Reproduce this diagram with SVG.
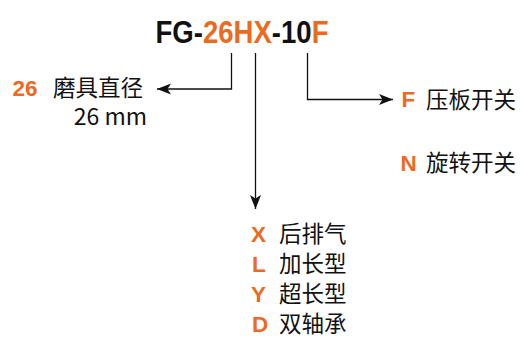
<svg xmlns="http://www.w3.org/2000/svg" width="523" height="340" viewBox="0 0 523 340">
<style>
.t{font-family:"Liberation Sans",Arial,sans-serif;font-weight:bold;font-size:32px;fill:#111}
.o{fill:#EC6A1F}
.k{font-family:"Liberation Sans",Arial,sans-serif;font-weight:bold;font-size:22.5px;fill:#EC6A1F}
.c{font-family:"Noto Sans CJK SC",sans-serif;font-size:22.5px;fill:#111}
.m{font-family:"Noto Sans CJK SC",sans-serif;font-size:23px;fill:#111}
.ln{fill:none;stroke:#111;stroke-width:1.3}
</style>
<defs>
<marker id="ah" markerUnits="userSpaceOnUse" markerWidth="16" markerHeight="12" refX="14" refY="5.5" orient="auto">
<path d="M0,0 L14,5.5 L0,11 L3.5,5.5 Z" fill="#111"/>
</marker>
</defs>
<g id="title" transform="translate(155.5,43) scale(0.861,1)">
<text class="t" x="0" y="0">FG-</text>
<text class="t o" x="55.1" y="0">26HX</text>
<text class="t" x="135.12" y="0">-10</text>
<text class="t o" x="181.36" y="0">F</text>
</g>
<g id="connectors">
<polyline class="ln" points="231.5,53 231.5,89 157,89" marker-end="url(#ah)"/>
<polyline class="ln" points="255.5,53 255.5,209" marker-end="url(#ah)"/>
<polyline class="ln" points="307.5,53 307.5,99.5 393,99.5" marker-end="url(#ah)"/>
</g>
<g id="node-26">
<text class="k" x="12.5" y="95.5">26</text>
<text class="c" x="53" y="95.5">磨具直径</text>
<text class="m" x="147" y="125" text-anchor="end">26 mm</text>
</g>
<g id="node-F">
<text class="k" x="401.5" y="107">F</text>
<text class="c" x="426" y="107.5">压板开关</text>
</g>
<g id="node-N">
<text class="k" x="400.5" y="170.5">N</text>
<text class="c" x="426" y="170.5">旋转开关</text>
</g>
<g id="node-X">
<text class="k" x="251" y="242">X</text>
<text class="c" x="279" y="242">后排气</text>
</g>
<g id="node-L">
<text class="k" x="252" y="272">L</text>
<text class="c" x="279" y="272">加长型</text>
</g>
<g id="node-Y">
<text class="k" x="251" y="302">Y</text>
<text class="c" x="279" y="302">超长型</text>
</g>
<g id="node-D">
<text class="k" x="252" y="332">D</text>
<text class="c" x="279" y="332">双轴承</text>
</g>
</svg>
